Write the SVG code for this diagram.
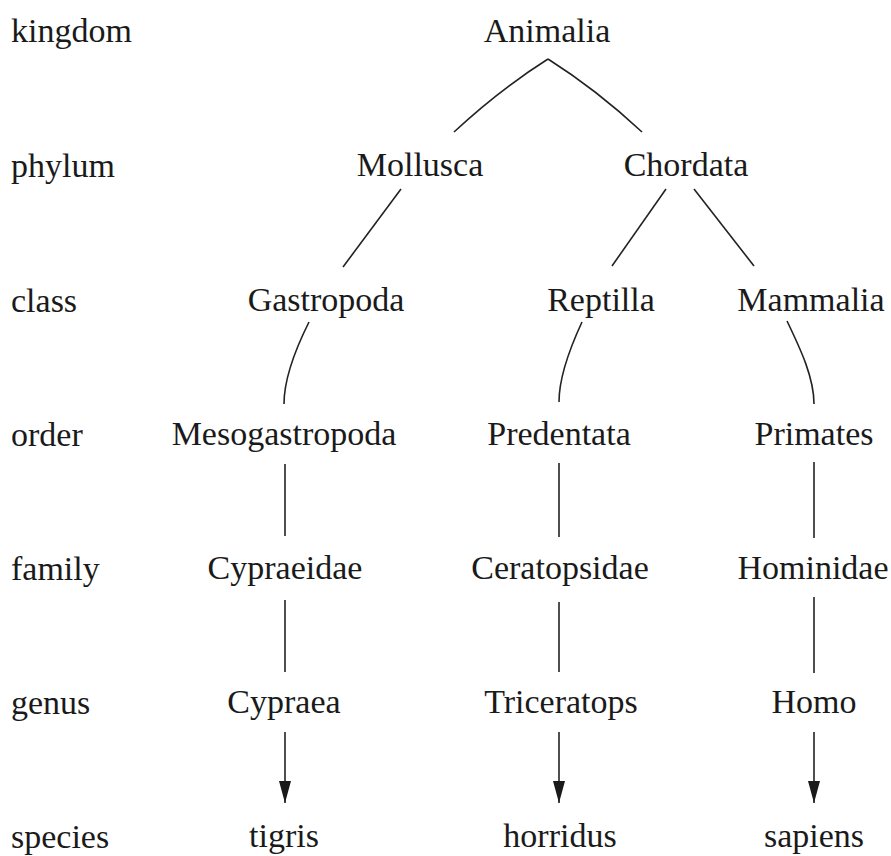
<svg xmlns="http://www.w3.org/2000/svg" width="891" height="856" viewBox="0 0 891 856">
<style>
text{font-family:"Liberation Serif","Times New Roman",serif;font-size:34px;fill:#1a1a1a}
.n{text-anchor:middle}
.c{fill:none;stroke:#222;stroke-width:1.6}
</style>
<defs>
<marker id="ah" viewBox="0 0 22 12" refX="22" refY="6" markerWidth="22" markerHeight="12" markerUnits="userSpaceOnUse" orient="auto">
<path d="M0,0 L22,6 L0,12 Z" fill="#1a1a1a"/>
</marker>
</defs>
<rect width="891" height="856" fill="#fff"/>
<g id="ranks">
<text x="11" y="42">kingdom</text>
<text x="11" y="177">phylum</text>
<text x="11" y="312">class</text>
<text x="11" y="446">order</text>
<text x="11" y="580">family</text>
<text x="11" y="714">genus</text>
<text x="11" y="848">species</text>
</g>
<g id="connectors">
<path class="c" d="M548,59 Q499,90 454,132"/>
<path class="c" d="M548,59 Q597,90 642,132"/>
<path class="c" d="M401,189 L343,267"/>
<path class="c" d="M666,189 L612,266"/>
<path class="c" d="M694,189 L754,266"/>
<path class="c" d="M309,322 C295,350 284,378 284,404"/>
<path class="c" d="M582,322 C569,350 559,378 559,402"/>
<path class="c" d="M787,321 C801,350 814,378 814,404"/>
<path class="c" d="M285,464 L285,536"/>
<path class="c" d="M559,463 L559,537"/>
<path class="c" d="M814,462 L814,538"/>
<path class="c" d="M285,600 L285,672"/>
<path class="c" d="M559,602 L559,672"/>
<path class="c" d="M814,597 L814,673"/>
<path class="c" d="M285,732 L285,803" marker-end="url(#ah)"/>
<path class="c" d="M559,732 L559,803" marker-end="url(#ah)"/>
<path class="c" d="M814,732 L814,803" marker-end="url(#ah)"/>
</g>
<g id="animalia"><text class="n" x="547" y="42">Animalia</text></g>
<g id="mollusca"><text class="n" x="420" y="176">Mollusca</text></g>
<g id="chordata"><text class="n" x="686" y="176">Chordata</text></g>
<g id="gastropoda"><text class="n" x="326" y="311">Gastropoda</text></g>
<g id="reptilla"><text class="n" x="601" y="311">Reptilla</text></g>
<g id="mammalia"><text class="n" x="811" y="311">Mammalia</text></g>
<g id="mesogastropoda"><text class="n" x="284" y="445">Mesogastropoda</text></g>
<g id="predentata"><text class="n" x="559" y="445">Predentata</text></g>
<g id="primates"><text class="n" x="814" y="445">Primates</text></g>
<g id="cypraeidae"><text class="n" x="285" y="579">Cypraeidae</text></g>
<g id="ceratopsidae"><text class="n" x="560" y="579">Ceratopsidae</text></g>
<g id="hominidae"><text class="n" x="813" y="579">Hominidae</text></g>
<g id="cypraea"><text class="n" x="284" y="713">Cypraea</text></g>
<g id="triceratops"><text class="n" x="561" y="713">Triceratops</text></g>
<g id="homo"><text class="n" x="814" y="713">Homo</text></g>
<g id="tigris"><text class="n" x="284" y="847">tigris</text></g>
<g id="horridus"><text class="n" x="560" y="847">horridus</text></g>
<g id="sapiens"><text class="n" x="814" y="847">sapiens</text></g>
</svg>
